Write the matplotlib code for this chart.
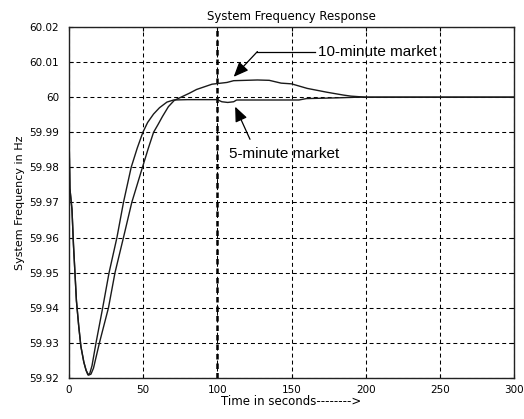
import matplotlib
matplotlib.use('Agg')
import matplotlib.pyplot as plt

# shared initial drop after the disturbance (both markets)
t_drop = [0, 0.6, 2, 3, 4, 5, 6.5, 8, 10, 11.5]
f_drop = [59.990, 59.974, 59.968, 59.958, 59.950, 59.942, 59.935, 59.929, 59.9245, 59.9222]

# 5-minute market recovery
t_5min = [12.7, 14, 15.5, 18.2, 22.7, 27, 32.3, 36.7, 41.9, 46, 49.8, 53, 57, 61, 66, 70.5,
          80, 100, 103, 107, 111, 113, 155, 160, 180, 195, 300]
f_5min = [59.9209, 59.9213, 59.9235, 59.930, 59.940, 59.950, 59.960, 59.970, 59.980, 59.9855,
          59.990, 59.9928, 59.9952, 59.9970, 59.9986, 59.9992, 59.9993, 59.9993, 59.9987,
          59.9985, 59.9987, 59.9992, 59.9992, 59.9996, 59.9998, 60.0, 60.0]

# 10-minute market recovery
t_10min = [13.2, 14.8, 16.5, 20.5, 26.6, 31, 36.7, 42.3, 49.5, 53.5, 57, 60, 63, 67, 71, 74,
           78, 81, 86, 96.4, 106.5, 111, 127, 135, 143, 150, 160.6, 174, 185, 190, 200, 300]
f_10min = [59.9208, 59.9211, 59.9228, 59.930, 59.940, 59.950, 59.960, 59.970, 59.980,
           59.9855, 59.990, 59.9922, 59.9945, 59.9973, 59.9991, 59.9997, 60.0005, 60.0011,
           60.0022, 60.0037, 60.0042, 60.0047, 60.0049, 60.0048, 60.0040, 60.0038, 60.0025,
           60.0014, 60.0006, 60.0003, 60.0, 60.0]

x_ticks = [0, 50, 100, 150, 200, 250, 300]
y_ticks = [59.92, 59.93, 59.94, 59.95, 59.96, 59.97, 59.98, 59.99, 60.0, 60.01, 60.02]
y_labels = ['59.92', '59.93', '59.94', '59.95', '59.96', '59.97', '59.98', '59.99',
            '60', '60.01', '60.02']

plt.rcParams['font.family'] = ['DejaVu Sans']

fig = plt.figure(figsize=(5.24, 4.19), dpi=100)
ax = fig.add_axes([0.1317, 0.0979, 0.8493, 0.8377])

grid_dash = (0, (3.8, 2.9))
ax.set_xticks(x_ticks)
ax.set_yticks(y_ticks)
ax.set_yticklabels(y_labels)
ax.grid(True, color='black', linestyle=grid_dash, linewidth=0.75)

# heavier marker at t = 100 s
ax.axvline(100, color='black', linestyle=(0, (2.2, 1.6)), linewidth=1.8, zorder=2)

ax.plot(t_drop + t_5min, f_drop + f_5min, color='#1a1a1a', linewidth=1.0, zorder=3)
ax.plot(t_drop + t_10min, f_drop + f_10min, color='#1a1a1a', linewidth=1.0, zorder=3)

ax.set_xlim(0, 300)
ax.set_ylim(59.92, 60.02)

ax.tick_params(direction='in', top=True, right=True, length=3, width=0.8,
               labelsize=7.5, colors='black')
ax.tick_params(axis='y', pad=7)
ax.tick_params(axis='x', pad=5)
for s in ax.spines.values():
    s.set_linewidth(1.0)
    s.set_color('#222222')

ax.set_title('System Frequency Response', fontsize=8.5, pad=5)
ax.set_xlabel('Time in seconds-------->', fontsize=8.5, labelpad=0)
ax.set_ylabel('System Frequency in Hz', fontsize=8, labelpad=3)

arrow = dict(arrowstyle='-|>,head_length=0.9,head_width=0.38', color='black',
             linewidth=0.9, shrinkA=0, shrinkB=0)

# 10-minute market label with elbow leader
ax.plot([127, 166], [60.013, 60.013], color='black', linewidth=0.9, zorder=4)
ax.annotate('', xy=(111, 60.0058), xytext=(127, 60.013), arrowprops=arrow)
ax.text(168, 60.013, '10-minute market', fontsize=11, va='center', ha='left',
        family='Liberation Sans')

# 5-minute market label
ax.annotate('', xy=(112, 59.9973), xytext=(122, 59.9880), arrowprops=arrow)
ax.text(108, 59.9838, '5-minute market', fontsize=11, va='center', ha='left',
        family='Liberation Sans')

fig.savefig('out.png', dpi=100)
